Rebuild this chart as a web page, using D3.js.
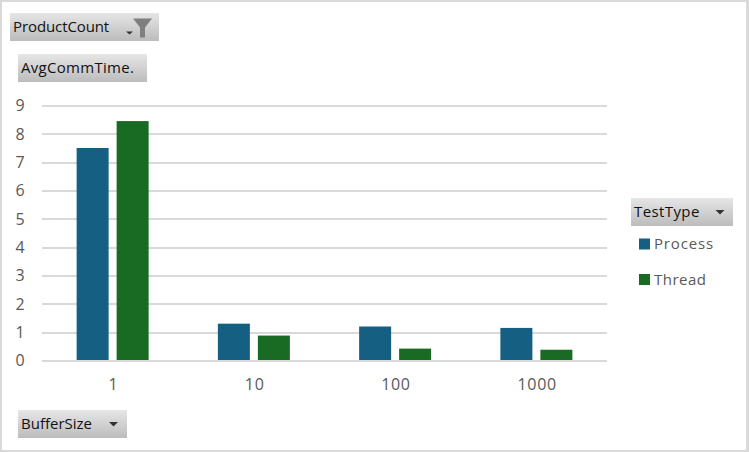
<!DOCTYPE html>
<html><head><meta charset="utf-8">
<script src="https://cdn.jsdelivr.net/npm/d3@7/dist/d3.min.js"></script>
<style>html,body{margin:0;padding:0;background:#fff;overflow:hidden}svg{display:block}text{font-family:"Open Sans",sans-serif}</style>
</head><body><div id="c"></div>
<script>
const categories = ["1","10","100","1000"];
const seriesNames = ["Process","Thread"];
const processValues = [7.5,1.3,1.2,1.15];
const threadValues = [8.45,0.88,0.42,0.38];
const yTicks = [0,1,2,3,4,5,6,7,8,9];
const colors = ["#156082","#196B24"];
const W=749,H=452;
const svg=d3.select("#c").append("svg").attr("width",W).attr("height",H);
const defs=svg.append("defs");
const g=defs.append("linearGradient").attr("id","btn").attr("x1",0).attr("y1",0).attr("x2",0).attr("y2",1);
g.append("stop").attr("offset","0").attr("stop-color","#e6e6e6");
g.append("stop").attr("offset","1").attr("stop-color","#bcbcbc");
svg.append("rect").attr("width",W).attr("height",H).attr("fill","#d9d9d9");
svg.append("rect").attr("x",2).attr("y",2).attr("width",744).attr("height",448).attr("fill","#fff");
const x=d3.scaleBand().domain(categories).range([42,607]);
const y=d3.scaleLinear().domain([0,9]).range([360.5,105.5]);
const gy=svg.append("g").attr("transform","translate(42,0)").call(d3.axisLeft(y).tickValues(yTicks).tickSize(-565).tickPadding(22).tickFormat(d3.format("d")));
gy.select(".domain").remove();
gy.selectAll(".tick line").attr("stroke","#d9d9d9").attr("stroke-width",2).attr("shape-rendering","crispEdges");
gy.selectAll(".tick text").attr("fill","#595959").attr("font-size",16).attr("text-anchor","middle").attr("dy","0.33em");
const gx=svg.append("g").attr("transform","translate(0,360.5)").call(d3.axisBottom(x).tickSize(0).tickPadding(18));
gx.select(".domain").remove();
gx.selectAll(".tick text").attr("fill","#595959").attr("font-size",16).attr("letter-spacing",0.7).attr("dx",0.8);
const barW=32,gap=8;
[processValues,threadValues].forEach((vals,s)=>{
  svg.append("g").selectAll("rect").data(vals).join("rect")
    .attr("x",(d,i)=>x(categories[i])+x.bandwidth()/2+(s===0?-gap/2-barW:gap/2))
    .attr("width",barW).attr("y",d=>y(d)).attr("height",d=>y(0)-y(d)-0.5).attr("fill",colors[s]);
});
function button(bx,by,w,h,label,arrow,sp){
  svg.append("rect").attr("x",bx).attr("y",by).attr("width",w).attr("height",h).attr("fill","url(#btn)");
  svg.append("text").attr("x",bx+3).attr("y",by+h/2+5).attr("font-size",15).attr("letter-spacing",sp||0).attr("fill","#111").text(label);
  if(arrow!=null) svg.append("path").attr("d",`M${arrow-4.5},${by+h/2-2}h9l-4.5,4.5z`).attr("fill","#333");
}
button(10,13,149,28,"ProductCount",null,-0.1);
svg.append("path").attr("d","M126,31.5h7l-3.5,3z").attr("fill","#333");
svg.append("path").attr("d","M133,18.5h19l-7,9v10h-5v-10z").attr("fill","#7f7f7f");
button(18,54,129,28,"AvgCommTime.",null,0.3);
button(18,410,109,28,"BufferSize",113.5);
button(631,198,102,28,"TestType",720,0.4);
seriesNames.forEach((n,i)=>{
  const ly=[244,279.5][i];
  svg.append("rect").attr("x",639).attr("y",ly-5.5).attr("width",11).attr("height",11).attr("fill",colors[i]);
  svg.append("text").attr("x",654).attr("y",ly+5).attr("font-size",15).attr("letter-spacing",i?0.5:0.85).attr("fill","#595959").text(n);
});
</script></body></html>
